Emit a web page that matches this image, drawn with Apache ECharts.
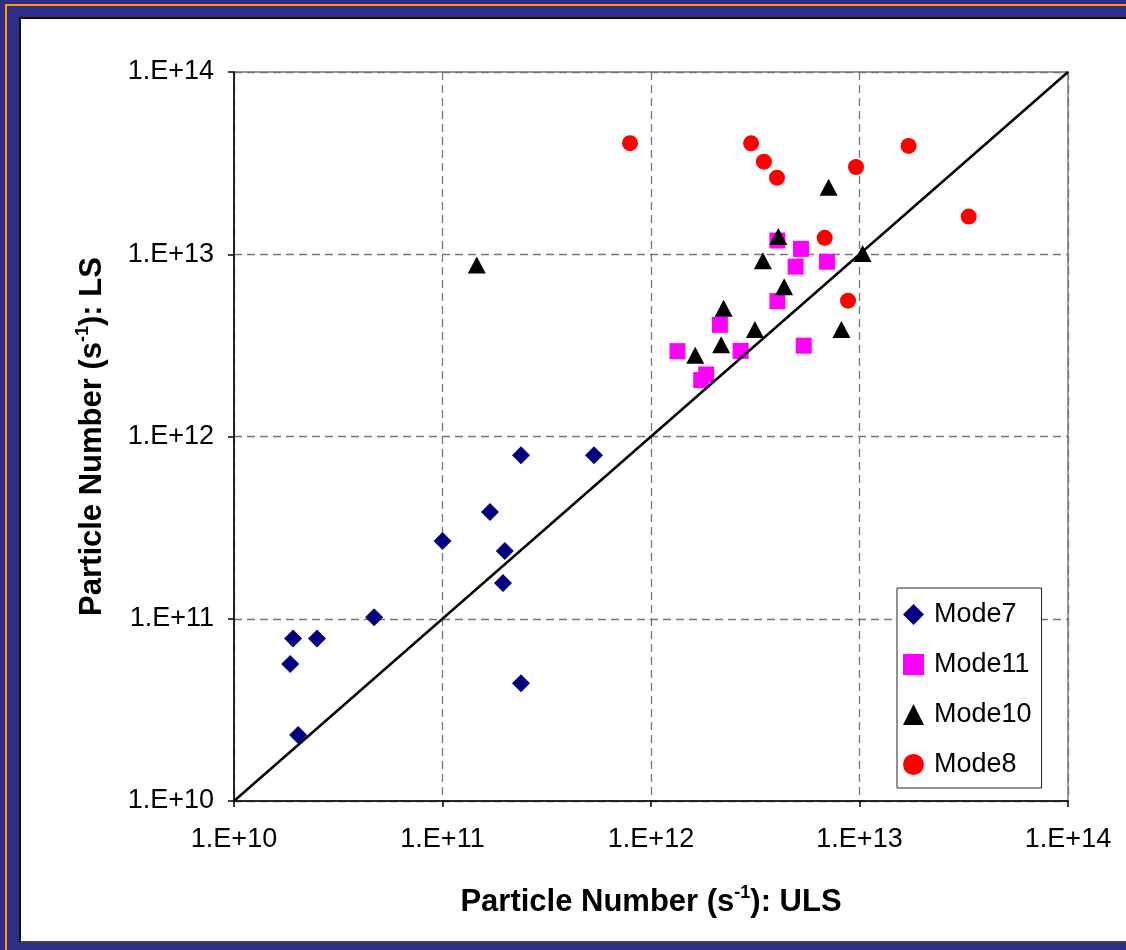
<!DOCTYPE html>
<html>
<head>
<meta charset="utf-8">
<script src="https://cdn.jsdelivr.net/npm/echarts@6/dist/echarts.min.js"></script>
<style>
  html, body { margin: 0; padding: 0; }
  body { width: 1126px; height: 950px; background: #2E2E88; position: relative; overflow: hidden; }
  .rule-h { position: absolute; left: 5px; top: 4px; width: 1121px; height: 2px; background: #FF9900; }
  .rule-v { position: absolute; left: 5px; top: 4px; width: 2px; height: 946px; background: #FF9900; }
  .panel { position: absolute; left: 19px; top: 17px; width: 1120px; height: 922px;
           background: #ffffff; border: 2px solid #111; border-bottom-color: #444; }
  #chart { position: absolute; left: 0; top: 0; width: 1126px; height: 950px; }
</style>
</head>
<body>
<div class="rule-h"></div>
<div class="rule-v"></div>
<div class="panel"></div>
<div id="chart"></div>
<script>
// Particle number measured with the ULS system (x) vs. the LS system (y), s^-1
const seriesNames = ['Mode7', 'Mode11', 'Mode10', 'Mode8'];

const mode7ULS = [1.92e10, 2.5e10, 1.86e10, 2.03e10, 4.7e10, 1.0e11, 1.69e11, 1.99e11, 1.95e11, 2.38e11, 2.38e11, 5.33e11];
const mode7LS  = [7.8e10, 7.8e10, 5.65e10, 2.3e10, 1.02e11, 2.67e11, 3.85e11, 2.35e11, 1.57e11, 7.9e11, 4.43e10, 7.9e11];

const mode11ULS = [1.34e12, 1.84e12, 1.74e12, 2.14e12, 2.69e12, 4.04e12, 4.04e12, 4.94e12, 5.24e12, 6.98e12, 5.4e12];
const mode11LS  = [2.94e12, 2.19e12, 2.04e12, 4.1e12, 2.95e12, 5.53e12, 1.19e13, 8.55e12, 1.07e13, 9.1e12, 3.15e12];

const mode10ULS = [1.46e11, 1.63e12, 2.17e12, 2.23e12, 3.15e12, 3.44e12, 4.08e12, 4.35e12, 7.11e12, 8.19e12, 1.035e13];
const mode10LS  = [8.73e12, 2.79e12, 3.19e12, 5.05e12, 3.87e12, 9.22e12, 1.25e13, 6.64e12, 2.33e13, 3.87e12, 1.01e13];

const mode8ULS = [7.93e11, 3.02e12, 3.48e12, 4.02e12, 6.81e12, 8.81e12, 9.62e12, 1.72e13, 3.34e13];
const mode8LS  = [4.07e13, 4.06e13, 3.22e13, 2.63e13, 1.23e13, 5.56e12, 3.01e13, 3.93e13, 1.61e13];

// 1:1 reference line end points
const parityLine = [1e10, 1e14];

const axisMin = 1e10;
const axisMax = 1e14;

function pairs(xs, ys) { return xs.map((x, i) => [x, ys[i]]); }
function expLabel(v) { return '1.E+' + Math.round(Math.log10(v)); }

const FONT = '"Liberation Sans", Arial, sans-serif';

const titleRich = {
  t: { fontFamily: FONT, fontSize: 31, fontWeight: 'bold', color: '#000', lineHeight: 36 },
  s: { fontFamily: FONT, fontSize: 18, fontWeight: 'bold', color: '#000', lineHeight: 20, verticalAlign: 'top' }
};

const gridLine = { show: true, lineStyle: { color: '#777', width: 1.3, type: [8, 5] } };

const chart = echarts.init(document.getElementById('chart'), null, { renderer: 'canvas' });

chart.setOption({
  backgroundColor: 'transparent',
  animation: false,
  grid: {
    left: 234, right: 58, top: 72, bottom: 149,
    show: true, borderColor: '#999', borderWidth: 2, backgroundColor: 'transparent'
  },
  legend: {
    data: seriesNames,
    orient: 'vertical',
    left: 897, top: 588,
    padding: [13, 10, 10, 6],
    itemGap: 23,
    itemWidth: 21, itemHeight: 21,
    backgroundColor: '#fff',
    borderColor: '#222', borderWidth: 1,
    textStyle: { fontFamily: FONT, fontSize: 27, color: '#000', padding: [0, 0, 0, 5] }
  },
  xAxis: {
    type: 'log', logBase: 10, min: axisMin, max: axisMax,
    axisLine: { show: true, onZero: false, lineStyle: { color: '#000', width: 1.5 } },
    axisTick: { show: true, inside: false, length: 6, lineStyle: { color: '#000', width: 1.5 } },
    minorTick: { show: false },
    axisLabel: { fontFamily: FONT, fontSize: 27, color: '#000', margin: 25, formatter: expLabel, showMinLabel: true, showMaxLabel: true },
    splitLine: gridLine,
    name: '{t|Particle Number (s}{s|-1}{t|): ULS}',
    nameLocation: 'middle', nameGap: 83,
    nameTextStyle: { rich: titleRich }
  },
  yAxis: {
    type: 'log', logBase: 10, min: axisMin, max: axisMax,
    axisLine: { show: true, onZero: false, lineStyle: { color: '#000', width: 1.5 } },
    axisTick: { show: true, inside: false, length: 6, lineStyle: { color: '#000', width: 1.5 } },
    minorTick: { show: false },
    axisLabel: { fontFamily: FONT, fontSize: 27, color: '#000', margin: 20, formatter: expLabel, showMinLabel: true, showMaxLabel: true },
    splitLine: gridLine,
    name: '{t|Particle Number (s}{s|-1}{t|): LS}',
    nameLocation: 'middle', nameGap: 124,
    nameTextStyle: { rich: titleRich }
  },
  series: [
    {
      name: 'Mode7', type: 'scatter', symbol: 'diamond', symbolSize: 18,
      itemStyle: { color: '#000080', opacity: 1 }, data: pairs(mode7ULS, mode7LS), z: 3
    },
    {
      name: 'Mode11', type: 'scatter', symbol: 'rect', symbolSize: 16,
      itemStyle: { color: '#FF00FF', opacity: 1 }, data: pairs(mode11ULS, mode11LS), z: 3
    },
    {
      name: 'Mode10', type: 'scatter', symbol: 'triangle', symbolSize: [18, 17],
      itemStyle: { color: '#000000', opacity: 1 }, data: pairs(mode10ULS, mode10LS), z: 4
    },
    {
      name: 'Mode8', type: 'scatter', symbol: 'circle', symbolSize: 16,
      itemStyle: { color: '#FF0000', opacity: 1 }, data: pairs(mode8ULS, mode8LS), z: 4
    },
    {
      name: '1:1', type: 'line', symbol: 'none', silent: true, z: 5,
      lineStyle: { color: '#000', width: 2.5 },
      data: pairs(parityLine, parityLine)
    }
  ]
});
</script>
</body>
</html>
